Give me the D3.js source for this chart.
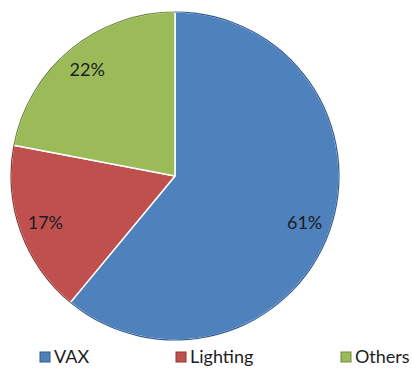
<!DOCTYPE html>
<html>
<head>
<meta charset="utf-8">
<script src="https://cdn.jsdelivr.net/npm/d3@7"></script>
<style>
  html, body { margin: 0; padding: 0; background: #fff; }
  svg { display: block; }
</style>
</head>
<body>
<svg id="chart" width="412" height="374"></svg>
<script>
// Share of consumption by category (percent)
const categories = ["VAX", "Lighting", "Others"];
const shares = [61, 17, 22];
const colors = ["#4F81BD", "#C0504D", "#9BBB59"];
const edgeColors = ["#2F5B8F", "#8E3431", "#6E8A3A"];

const svg = d3.select("#chart");
const cx = 175, cy = 176, radius = 164;

const pie = d3.pie().sort(null).value(d => d.value);
const data = categories.map((c, i) => ({ name: c, value: shares[i], i }));
const arcs = pie(data);

const arc = d3.arc().innerRadius(0).outerRadius(radius);
const labelArc = d3.arc().innerRadius(radius * 0.84).outerRadius(radius * 0.84);

const g = svg.append("g").attr("transform", `translate(${cx},${cy})`);

// slices with white separators
g.selectAll("path.slice")
  .data(arcs)
  .join("path")
  .attr("class", "slice")
  .attr("d", arc)
  .attr("fill", d => colors[d.data.i])
  .attr("stroke", "#fff")
  .attr("stroke-width", 1.5)
  .attr("stroke-linejoin", "round");

// darker rim along the outer edge
const rim = d3.arc().innerRadius(radius - 0.6).outerRadius(radius + 0.6);
g.selectAll("path.rim")
  .data(arcs)
  .join("path")
  .attr("class", "rim")
  .attr("d", rim)
  .attr("fill", d => edgeColors[d.data.i]);

// percentage labels
g.selectAll("text.pct")
  .data(arcs)
  .join("text")
  .attr("class", "pct")
  .attr("transform", d => `translate(${labelArc.centroid(d)})`)
  .attr("text-anchor", "middle")
  .attr("dy", "0.35em")
  .attr("font-family", "Lato, 'Open Sans', sans-serif")
  .attr("font-size", 18)
  .attr("fill", "#1c1c24")
  .text(d => d.data.value + "%");

// legend
const legendX = [40, 176, 341];
const legendY = 357;
const legend = svg.append("g");
const items = legend.selectAll("g.item")
  .data(data)
  .join("g")
  .attr("class", "item")
  .attr("transform", (d, i) => `translate(${legendX[i]},${legendY})`);

items.append("rect")
  .attr("x", 0).attr("y", -5)
  .attr("width", 10).attr("height", 10)
  .attr("fill", d => colors[d.i])
  .attr("stroke", d => edgeColors[d.i])
  .attr("stroke-width", 1);

items.append("text")
  .attr("x", 14)
  .attr("dy", "0.36em")
  .attr("font-family", "Lato, 'Open Sans', sans-serif")
  .attr("font-size", 18)
  .attr("fill", "#1c1c24")
  .text(d => d.name);
</script>
</body>
</html>
